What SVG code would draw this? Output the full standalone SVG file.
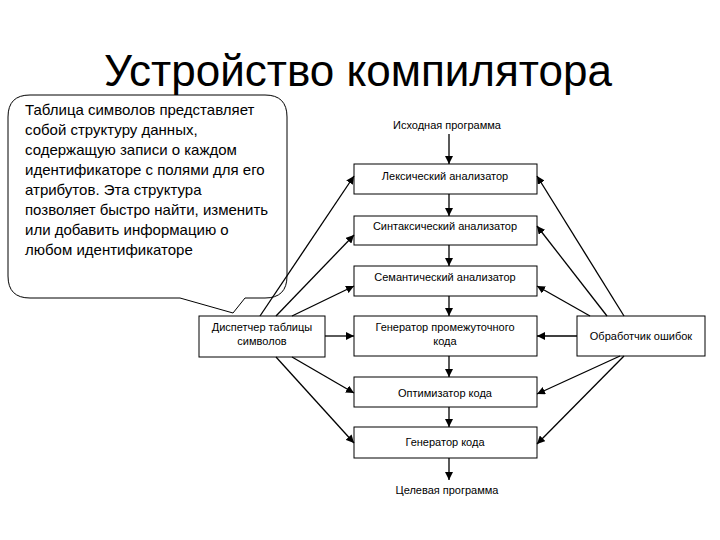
<svg xmlns="http://www.w3.org/2000/svg" width="720" height="540" viewBox="0 0 720 540">
<defs><marker id="a" markerWidth="8" markerHeight="8" refX="8" refY="4" orient="auto" markerUnits="userSpaceOnUse"><path d="M0,0L8,4L0,8z" fill="#000"/></marker></defs>
<style>
text{font-family:"Liberation Sans",Arial,sans-serif;fill:#000}
.b rect{fill:#fff;stroke:#000;stroke-width:1}
.b text{font-size:11px;text-anchor:middle}
.c line{stroke:#000;stroke-width:1.3;marker-end:url(#a)}
</style>
<rect width="720" height="540" fill="#fff"/>
<text x="358" y="86" font-size="44" text-anchor="middle">Устройство компилятора</text>
<g id="callout">
<path d="M30,95 H265 Q287,95 287,117 V276 Q287,298 265,298 H245 L233,313 L180,298 H30 Q8,298 8,276 V117 Q8,95 30,95 Z" fill="#fff" stroke="#000"/>
<text font-size="15"><tspan x="25" y="115">Таблица символов представляет</tspan><tspan x="25" y="135">собой структуру данных,</tspan><tspan x="25" y="155">содержащую записи о каждом</tspan><tspan x="25" y="175">идентификаторе с полями для его</tspan><tspan x="25" y="195">атрибутов. Эта структура</tspan><tspan x="25" y="215">позволяет быстро найти, изменить</tspan><tspan x="25" y="235">или добавить информацию  о</tspan><tspan x="25" y="255">любом идентификаторе</tspan></text>
</g>
<g id="src" class="b"><text x="447" y="129">Исходная программа</text></g>
<g id="lex" class="b"><rect x="354" y="164" width="183" height="30"/><text x="445" y="180">Лексический анализатор</text></g>
<g id="syn" class="b"><rect x="354" y="216" width="183" height="29"/><text x="445" y="230">Синтаксический анализатор</text></g>
<g id="sem" class="b"><rect x="354" y="266" width="183" height="30"/><text x="445" y="281">Семантический анализатор</text></g>
<g id="ir" class="b"><rect x="354" y="316" width="183" height="40"/><text x="445" y="331">Генератор промежуточного</text><text x="445" y="345">кода</text></g>
<g id="opt" class="b"><rect x="354" y="377" width="183" height="30"/><text x="445" y="397">Оптимизатор кода</text></g>
<g id="gen" class="b"><rect x="354" y="427" width="183" height="31"/><text x="445" y="446">Генератор кода</text></g>
<g id="tgt" class="b"><text x="447" y="494">Целевая программа</text></g>
<g id="disp" class="b"><rect x="199" y="316" width="126" height="41"/><text x="262" y="331">Диспетчер таблицы</text><text x="262" y="345">символов</text></g>
<g id="err" class="b"><rect x="577" y="316" width="128" height="40"/><text x="641" y="340">Обработчик ошибок</text></g>
<g id="connectors" class="c">
<line x1="449" y1="134" x2="449" y2="164"/>
<line x1="449" y1="194" x2="449" y2="216"/>
<line x1="449" y1="245" x2="449" y2="266"/>
<line x1="449" y1="296" x2="449" y2="316"/>
<line x1="449" y1="356" x2="449" y2="377"/>
<line x1="449" y1="407" x2="449" y2="427"/>
<line x1="449" y1="458" x2="449" y2="480"/>
<line x1="260" y1="316" x2="354" y2="176"/>
<line x1="276" y1="316" x2="354" y2="235"/>
<line x1="292" y1="316" x2="354" y2="286"/>
<line x1="325" y1="336" x2="354" y2="336"/>
<line x1="292" y1="357" x2="354" y2="393"/>
<line x1="276" y1="357" x2="354" y2="443"/>
<line x1="624" y1="316" x2="537" y2="176"/>
<line x1="607" y1="316" x2="537" y2="226"/>
<line x1="590" y1="316" x2="537" y2="286"/>
<line x1="577" y1="336" x2="537" y2="336"/>
<line x1="620" y1="356" x2="537" y2="394"/>
<line x1="624" y1="356" x2="537" y2="444"/>
</g>
</svg>
